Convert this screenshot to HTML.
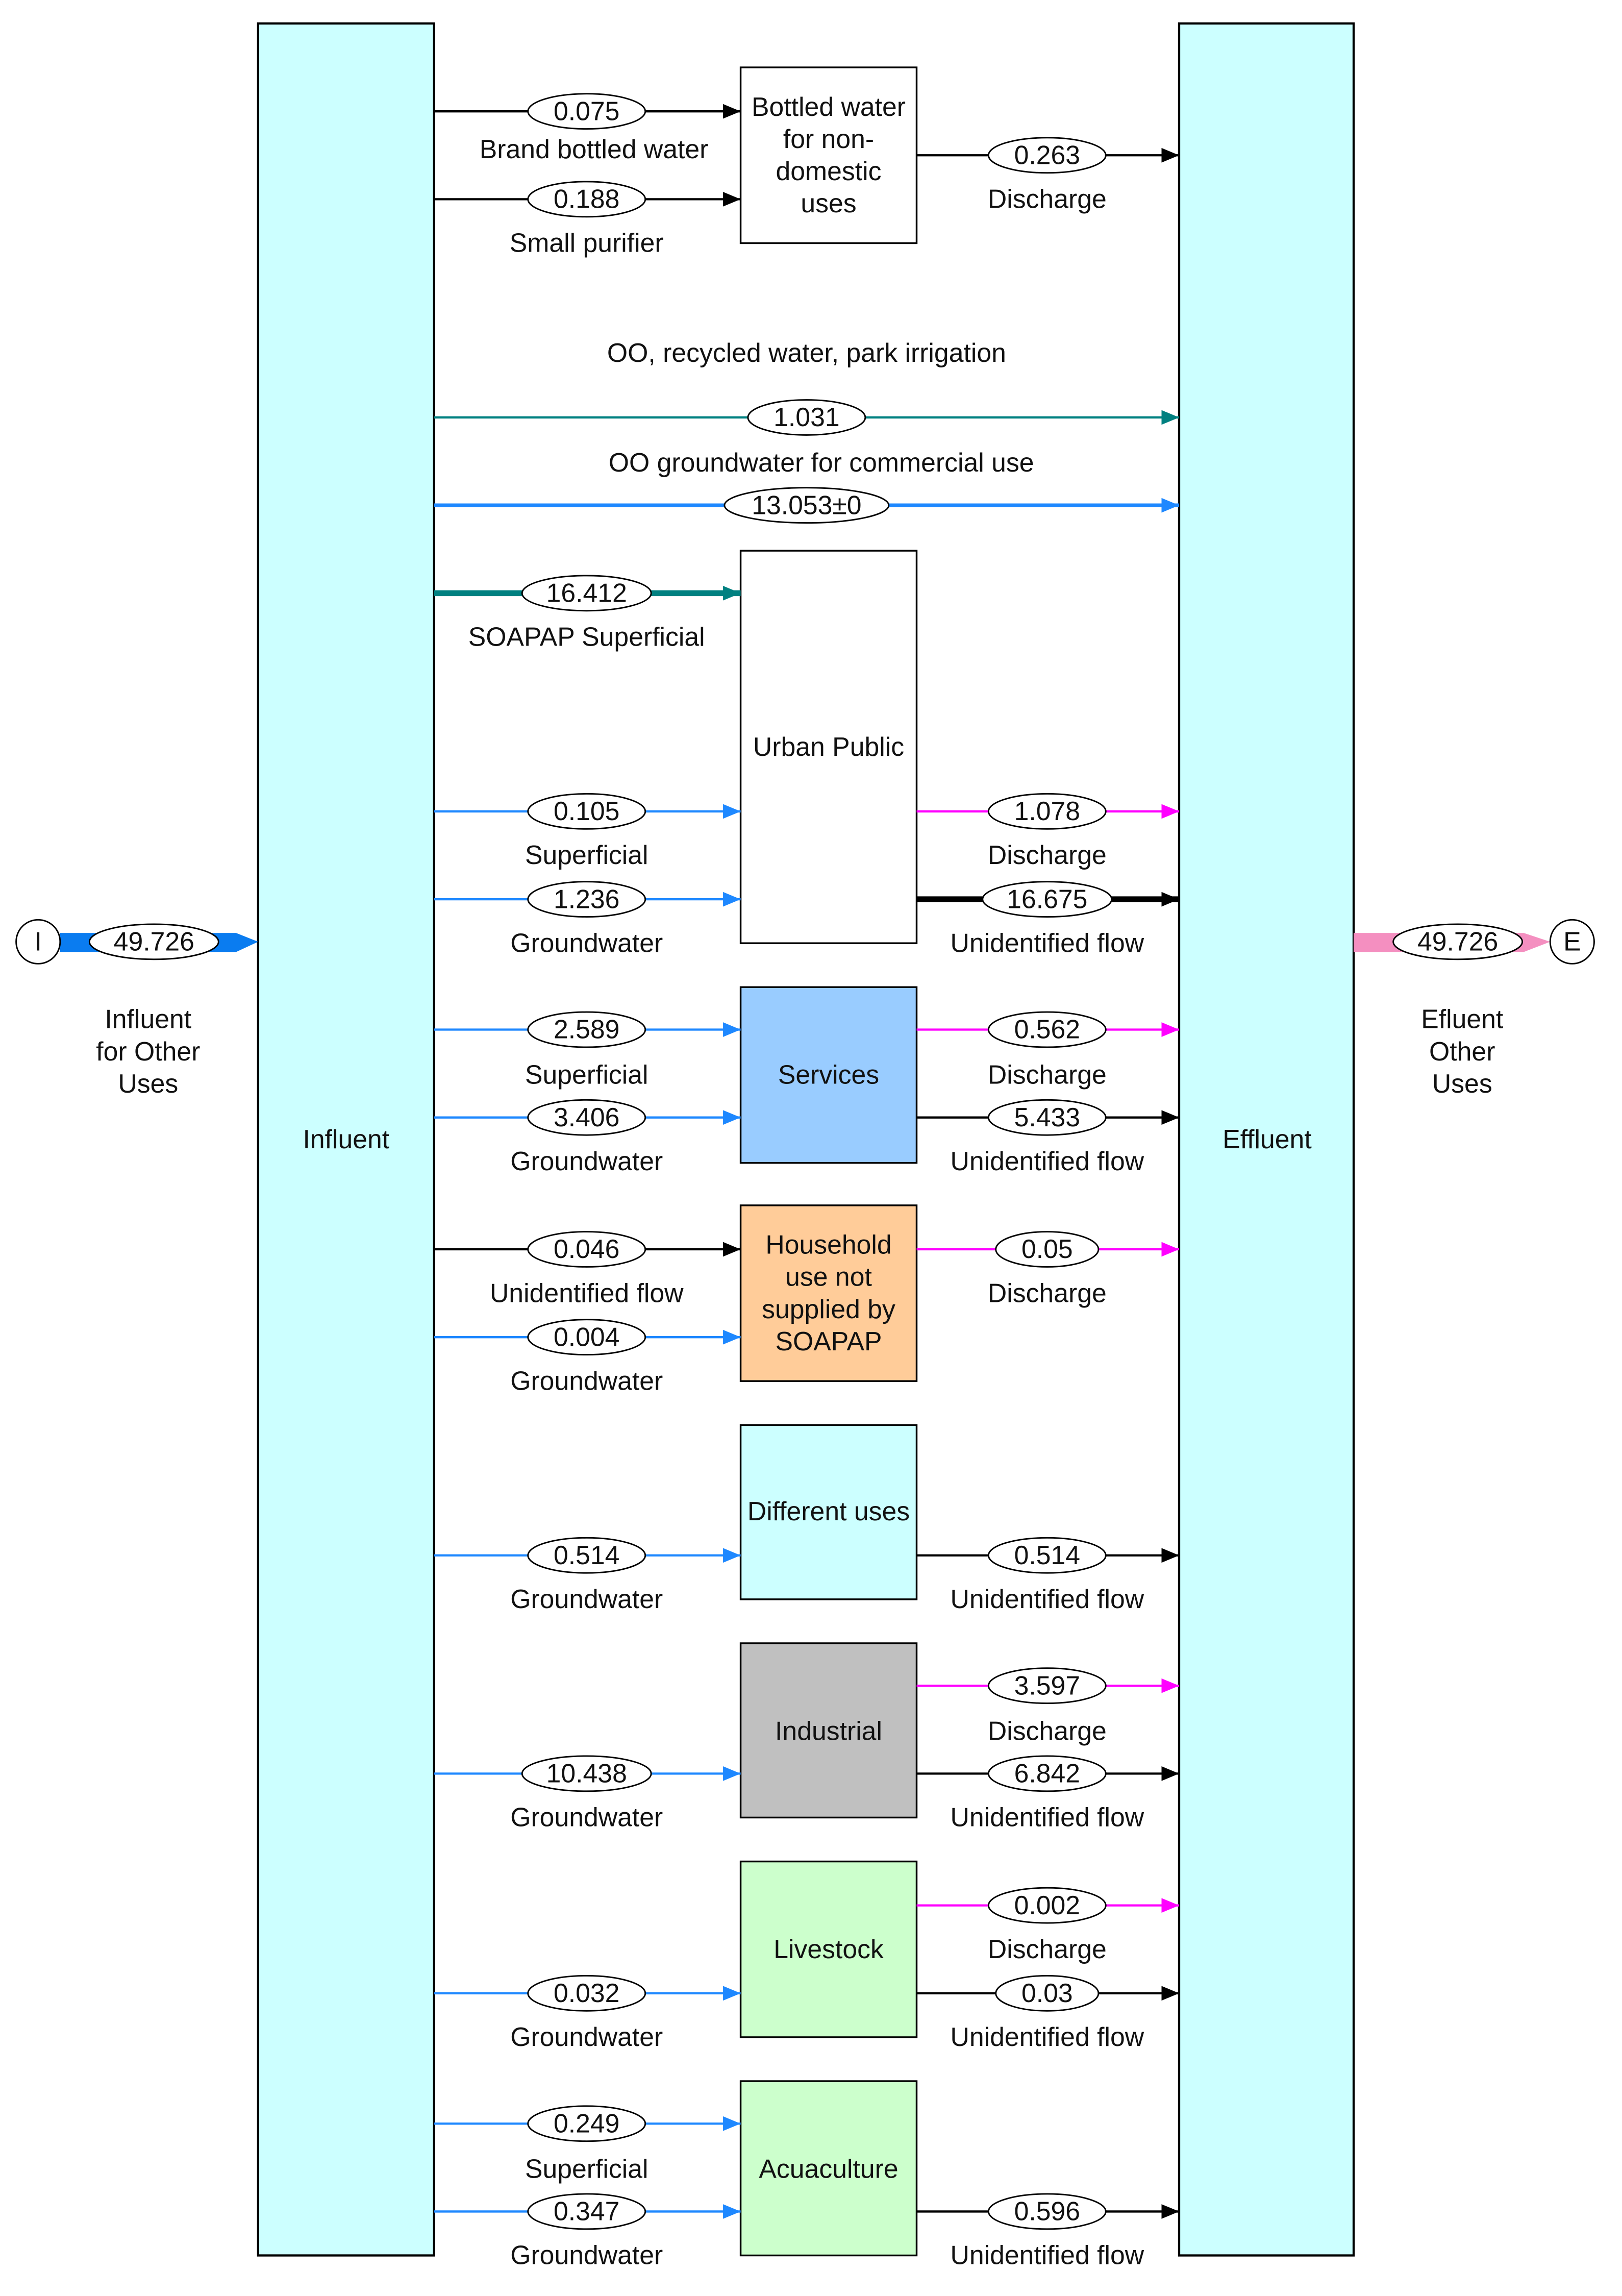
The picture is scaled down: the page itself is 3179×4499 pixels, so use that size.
<!DOCTYPE html>
<html><head><meta charset="utf-8"><style>
html,body{margin:0;padding:0;background:#fff;}
svg{display:block;}
text{font-family:"Liberation Sans",Arial,sans-serif;font-size:18px;fill:#111;text-anchor:middle;}
</style></head><body>
<svg width="3179" height="4499" viewBox="0 0 1100 1556.7" xmlns="http://www.w3.org/2000/svg">
<defs>
<marker id="ak" markerWidth="12" markerHeight="10" refX="12" refY="5" orient="auto" markerUnits="userSpaceOnUse"><path d="M0,0L12,5L0,10z" fill="#000"/></marker>
<marker id="ab" markerWidth="12" markerHeight="10" refX="12" refY="5" orient="auto" markerUnits="userSpaceOnUse"><path d="M0,0L12,5L0,10z" fill="#1e88ff"/></marker>
<marker id="am" markerWidth="12" markerHeight="10" refX="12" refY="5" orient="auto" markerUnits="userSpaceOnUse"><path d="M0,0L12,5L0,10z" fill="#ff00ff"/></marker>
<marker id="at" markerWidth="12" markerHeight="10" refX="12" refY="5" orient="auto" markerUnits="userSpaceOnUse"><path d="M0,0L12,5L0,10z" fill="#008080"/></marker>
</defs>
<rect width="1100" height="1557" fill="#fff"/>
<g transform="matrix(0.9946,0,0,0.993,-1,0)">
<rect x="177" y="16" width="120" height="1524" fill="#ccffff" stroke="#000" stroke-width="1.5"/>
<rect x="805" y="16" width="119" height="1524" fill="#ccffff" stroke="#000" stroke-width="1.5"/>
<text x="237" y="784">Influent</text>
<text x="865" y="784">Effluent</text>
<rect x="506" y="46" width="120" height="120" fill="#fff" stroke="#000" stroke-width="1.2"/>
<text x="566" y="79">Bottled water</text><text x="566" y="101">for non-</text><text x="566" y="123">domestic</text><text x="566" y="145">uses</text>
<rect x="506" y="376" width="120" height="268" fill="#fff" stroke="#000" stroke-width="1.2"/>
<text x="566" y="516">Urban Public</text>
<rect x="506" y="674" width="120" height="120" fill="#99ccff" stroke="#000" stroke-width="1.2"/>
<text x="566" y="740">Services</text>
<rect x="506" y="823" width="120" height="120" fill="#ffcc99" stroke="#000" stroke-width="1.2"/>
<text x="566" y="856">Household</text><text x="566" y="878">use not</text><text x="566" y="900">supplied by</text><text x="566" y="922">SOAPAP</text>
<rect x="506" y="973" width="120" height="119" fill="#ccffff" stroke="#000" stroke-width="1.2"/>
<text x="566" y="1038">Different uses</text>
<rect x="506" y="1122" width="120" height="119" fill="#c0c0c0" stroke="#000" stroke-width="1.2"/>
<text x="566" y="1188">Industrial</text>
<rect x="506" y="1271" width="120" height="120" fill="#ccffcc" stroke="#000" stroke-width="1.2"/>
<text x="566" y="1337">Livestock</text>
<rect x="506" y="1421" width="120" height="119" fill="#ccffcc" stroke="#000" stroke-width="1.2"/>
<text x="566" y="1487">Acuaculture</text>

<g>
<line x1="297" y1="76" x2="506" y2="76" stroke="#000" stroke-width="1.5" marker-end="url(#ak)"/>
<ellipse cx="401" cy="76" rx="40" ry="12" fill="#fff" stroke="#000"/><text x="401" y="82">0.075</text><text x="406" y="108">Brand bottled water</text>
<line x1="297" y1="136" x2="506" y2="136" stroke="#000" stroke-width="1.5" marker-end="url(#ak)"/>
<ellipse cx="401" cy="136" rx="40" ry="12" fill="#fff" stroke="#000"/><text x="401" y="142">0.188</text><text x="401" y="172">Small purifier</text>

<line x1="297" y1="405" x2="506" y2="405" stroke="#008080" stroke-width="4" marker-end="url(#at)"/>
<ellipse cx="401" cy="405" rx="44" ry="12" fill="#fff" stroke="#000"/><text x="401" y="411">16.412</text><text x="401" y="441">SOAPAP Superficial</text>

<line x1="297" y1="554" x2="506" y2="554" stroke="#1e88ff" stroke-width="1.5" marker-end="url(#ab)"/>
<ellipse cx="401" cy="554" rx="40" ry="12" fill="#fff" stroke="#000"/><text x="401" y="560">0.105</text><text x="401" y="590">Superficial</text>
<line x1="297" y1="614" x2="506" y2="614" stroke="#1e88ff" stroke-width="1.5" marker-end="url(#ab)"/>
<ellipse cx="401" cy="614" rx="40" ry="12" fill="#fff" stroke="#000"/><text x="401" y="620">1.236</text><text x="401" y="650">Groundwater</text>

<line x1="297" y1="703" x2="506" y2="703" stroke="#1e88ff" stroke-width="1.5" marker-end="url(#ab)"/>
<ellipse cx="401" cy="703" rx="40" ry="12" fill="#fff" stroke="#000"/><text x="401" y="709">2.589</text><text x="401" y="740">Superficial</text>
<line x1="297" y1="763" x2="506" y2="763" stroke="#1e88ff" stroke-width="1.5" marker-end="url(#ab)"/>
<ellipse cx="401" cy="763" rx="40" ry="12" fill="#fff" stroke="#000"/><text x="401" y="769">3.406</text><text x="401" y="799">Groundwater</text>

<line x1="297" y1="853" x2="506" y2="853" stroke="#000" stroke-width="1.5" marker-end="url(#ak)"/>
<ellipse cx="401" cy="853" rx="40" ry="12" fill="#fff" stroke="#000"/><text x="401" y="859">0.046</text><text x="401" y="889">Unidentified flow</text>
<line x1="297" y1="913" x2="506" y2="913" stroke="#1e88ff" stroke-width="1.5" marker-end="url(#ab)"/>
<ellipse cx="401" cy="913" rx="40" ry="12" fill="#fff" stroke="#000"/><text x="401" y="919">0.004</text><text x="401" y="949">Groundwater</text>

<line x1="297" y1="1062" x2="506" y2="1062" stroke="#1e88ff" stroke-width="1.5" marker-end="url(#ab)"/>
<ellipse cx="401" cy="1062" rx="40" ry="12" fill="#fff" stroke="#000"/><text x="401" y="1068">0.514</text><text x="401" y="1098">Groundwater</text>

<line x1="297" y1="1211" x2="506" y2="1211" stroke="#1e88ff" stroke-width="1.5" marker-end="url(#ab)"/>
<ellipse cx="401" cy="1211" rx="44" ry="12" fill="#fff" stroke="#000"/><text x="401" y="1217">10.438</text><text x="401" y="1247">Groundwater</text>

<line x1="297" y1="1361" x2="506" y2="1361" stroke="#1e88ff" stroke-width="1.5" marker-end="url(#ab)"/>
<ellipse cx="401" cy="1361" rx="40" ry="12" fill="#fff" stroke="#000"/><text x="401" y="1367">0.032</text><text x="401" y="1397">Groundwater</text>

<line x1="297" y1="1450" x2="506" y2="1450" stroke="#1e88ff" stroke-width="1.5" marker-end="url(#ab)"/>
<ellipse cx="401" cy="1450" rx="40" ry="12" fill="#fff" stroke="#000"/><text x="401" y="1456">0.249</text><text x="401" y="1487">Superficial</text>
<line x1="297" y1="1510" x2="506" y2="1510" stroke="#1e88ff" stroke-width="1.5" marker-end="url(#ab)"/>
<ellipse cx="401" cy="1510" rx="40" ry="12" fill="#fff" stroke="#000"/><text x="401" y="1516">0.347</text><text x="401" y="1546">Groundwater</text>
</g>

<text x="551" y="247">OO, recycled water, park irrigation</text>
<line x1="297" y1="285" x2="805" y2="285" stroke="#008080" stroke-width="1.5" marker-end="url(#at)"/>
<ellipse cx="551" cy="285" rx="40" ry="12" fill="#fff" stroke="#000"/><text x="551" y="291">1.031</text>
<text x="561" y="322">OO groundwater for commercial use</text>
<line x1="297" y1="345" x2="805" y2="345" stroke="#1e88ff" stroke-width="2.5" marker-end="url(#ab)"/>
<ellipse cx="551" cy="345" rx="56" ry="12" fill="#fff" stroke="#000"/><text x="551" y="351">13.053±0</text>

<g>
<line x1="626" y1="106" x2="805" y2="106" stroke="#000" stroke-width="1.5" marker-end="url(#ak)"/>
<ellipse cx="715" cy="106" rx="40" ry="12" fill="#fff" stroke="#000"/><text x="715" y="112">0.263</text><text x="715" y="142">Discharge</text>

<line x1="626" y1="554" x2="805" y2="554" stroke="#ff00ff" stroke-width="1.5" marker-end="url(#am)"/>
<ellipse cx="715" cy="554" rx="40" ry="12" fill="#fff" stroke="#000"/><text x="715" y="560">1.078</text><text x="715" y="590">Discharge</text>
<line x1="626" y1="614" x2="805" y2="614" stroke="#000" stroke-width="4" marker-end="url(#ak)"/>
<ellipse cx="715" cy="614" rx="44" ry="12" fill="#fff" stroke="#000"/><text x="715" y="620">16.675</text><text x="715" y="650">Unidentified flow</text>

<line x1="626" y1="703" x2="805" y2="703" stroke="#ff00ff" stroke-width="1.5" marker-end="url(#am)"/>
<ellipse cx="715" cy="703" rx="40" ry="12" fill="#fff" stroke="#000"/><text x="715" y="709">0.562</text><text x="715" y="740">Discharge</text>
<line x1="626" y1="763" x2="805" y2="763" stroke="#000" stroke-width="1.5" marker-end="url(#ak)"/>
<ellipse cx="715" cy="763" rx="40" ry="12" fill="#fff" stroke="#000"/><text x="715" y="769">5.433</text><text x="715" y="799">Unidentified flow</text>

<line x1="626" y1="853" x2="805" y2="853" stroke="#ff00ff" stroke-width="1.5" marker-end="url(#am)"/>
<ellipse cx="715" cy="853" rx="35" ry="12" fill="#fff" stroke="#000"/><text x="715" y="859">0.05</text><text x="715" y="889">Discharge</text>

<line x1="626" y1="1062" x2="805" y2="1062" stroke="#000" stroke-width="1.5" marker-end="url(#ak)"/>
<ellipse cx="715" cy="1062" rx="40" ry="12" fill="#fff" stroke="#000"/><text x="715" y="1068">0.514</text><text x="715" y="1098">Unidentified flow</text>

<line x1="626" y1="1151" x2="805" y2="1151" stroke="#ff00ff" stroke-width="1.5" marker-end="url(#am)"/>
<ellipse cx="715" cy="1151" rx="40" ry="12" fill="#fff" stroke="#000"/><text x="715" y="1157">3.597</text><text x="715" y="1188">Discharge</text>
<line x1="626" y1="1211" x2="805" y2="1211" stroke="#000" stroke-width="1.5" marker-end="url(#ak)"/>
<ellipse cx="715" cy="1211" rx="40" ry="12" fill="#fff" stroke="#000"/><text x="715" y="1217">6.842</text><text x="715" y="1247">Unidentified flow</text>

<line x1="626" y1="1301" x2="805" y2="1301" stroke="#ff00ff" stroke-width="1.5" marker-end="url(#am)"/>
<ellipse cx="715" cy="1301" rx="40" ry="12" fill="#fff" stroke="#000"/><text x="715" y="1307">0.002</text><text x="715" y="1337">Discharge</text>
<line x1="626" y1="1361" x2="805" y2="1361" stroke="#000" stroke-width="1.5" marker-end="url(#ak)"/>
<ellipse cx="715" cy="1361" rx="35" ry="12" fill="#fff" stroke="#000"/><text x="715" y="1367">0.03</text><text x="715" y="1397">Unidentified flow</text>

<line x1="626" y1="1510" x2="805" y2="1510" stroke="#000" stroke-width="1.5" marker-end="url(#ak)"/>
<ellipse cx="715" cy="1510" rx="40" ry="12" fill="#fff" stroke="#000"/><text x="715" y="1516">0.596</text><text x="715" y="1546">Unidentified flow</text>
</g>

<path d="M42,637 L162,637 L177,643 L162,650 L42,650 z" fill="#0a7cf0"/>
<circle cx="27" cy="643" r="15" fill="#fff" stroke="#000"/><text x="27" y="649">I</text>
<ellipse cx="106" cy="643" rx="44" ry="12" fill="#fff" stroke="#000"/><text x="106" y="649">49.726</text>
<text x="102" y="702">Influent</text><text x="102" y="724">for Other</text><text x="102" y="746">Uses</text>

<path d="M924,637 L1040,637 L1058,643 L1040,650 L924,650 z" fill="#f48fc0"/>
<circle cx="1073" cy="643" r="15" fill="#fff" stroke="#000"/><text x="1073" y="649">E</text>
<ellipse cx="995" cy="643" rx="44" ry="12" fill="#fff" stroke="#000"/><text x="995" y="649">49.726</text>
<text x="998" y="702">Efluent</text><text x="998" y="724">Other</text><text x="998" y="746">Uses</text>
</g>
</svg>
</body></html>
